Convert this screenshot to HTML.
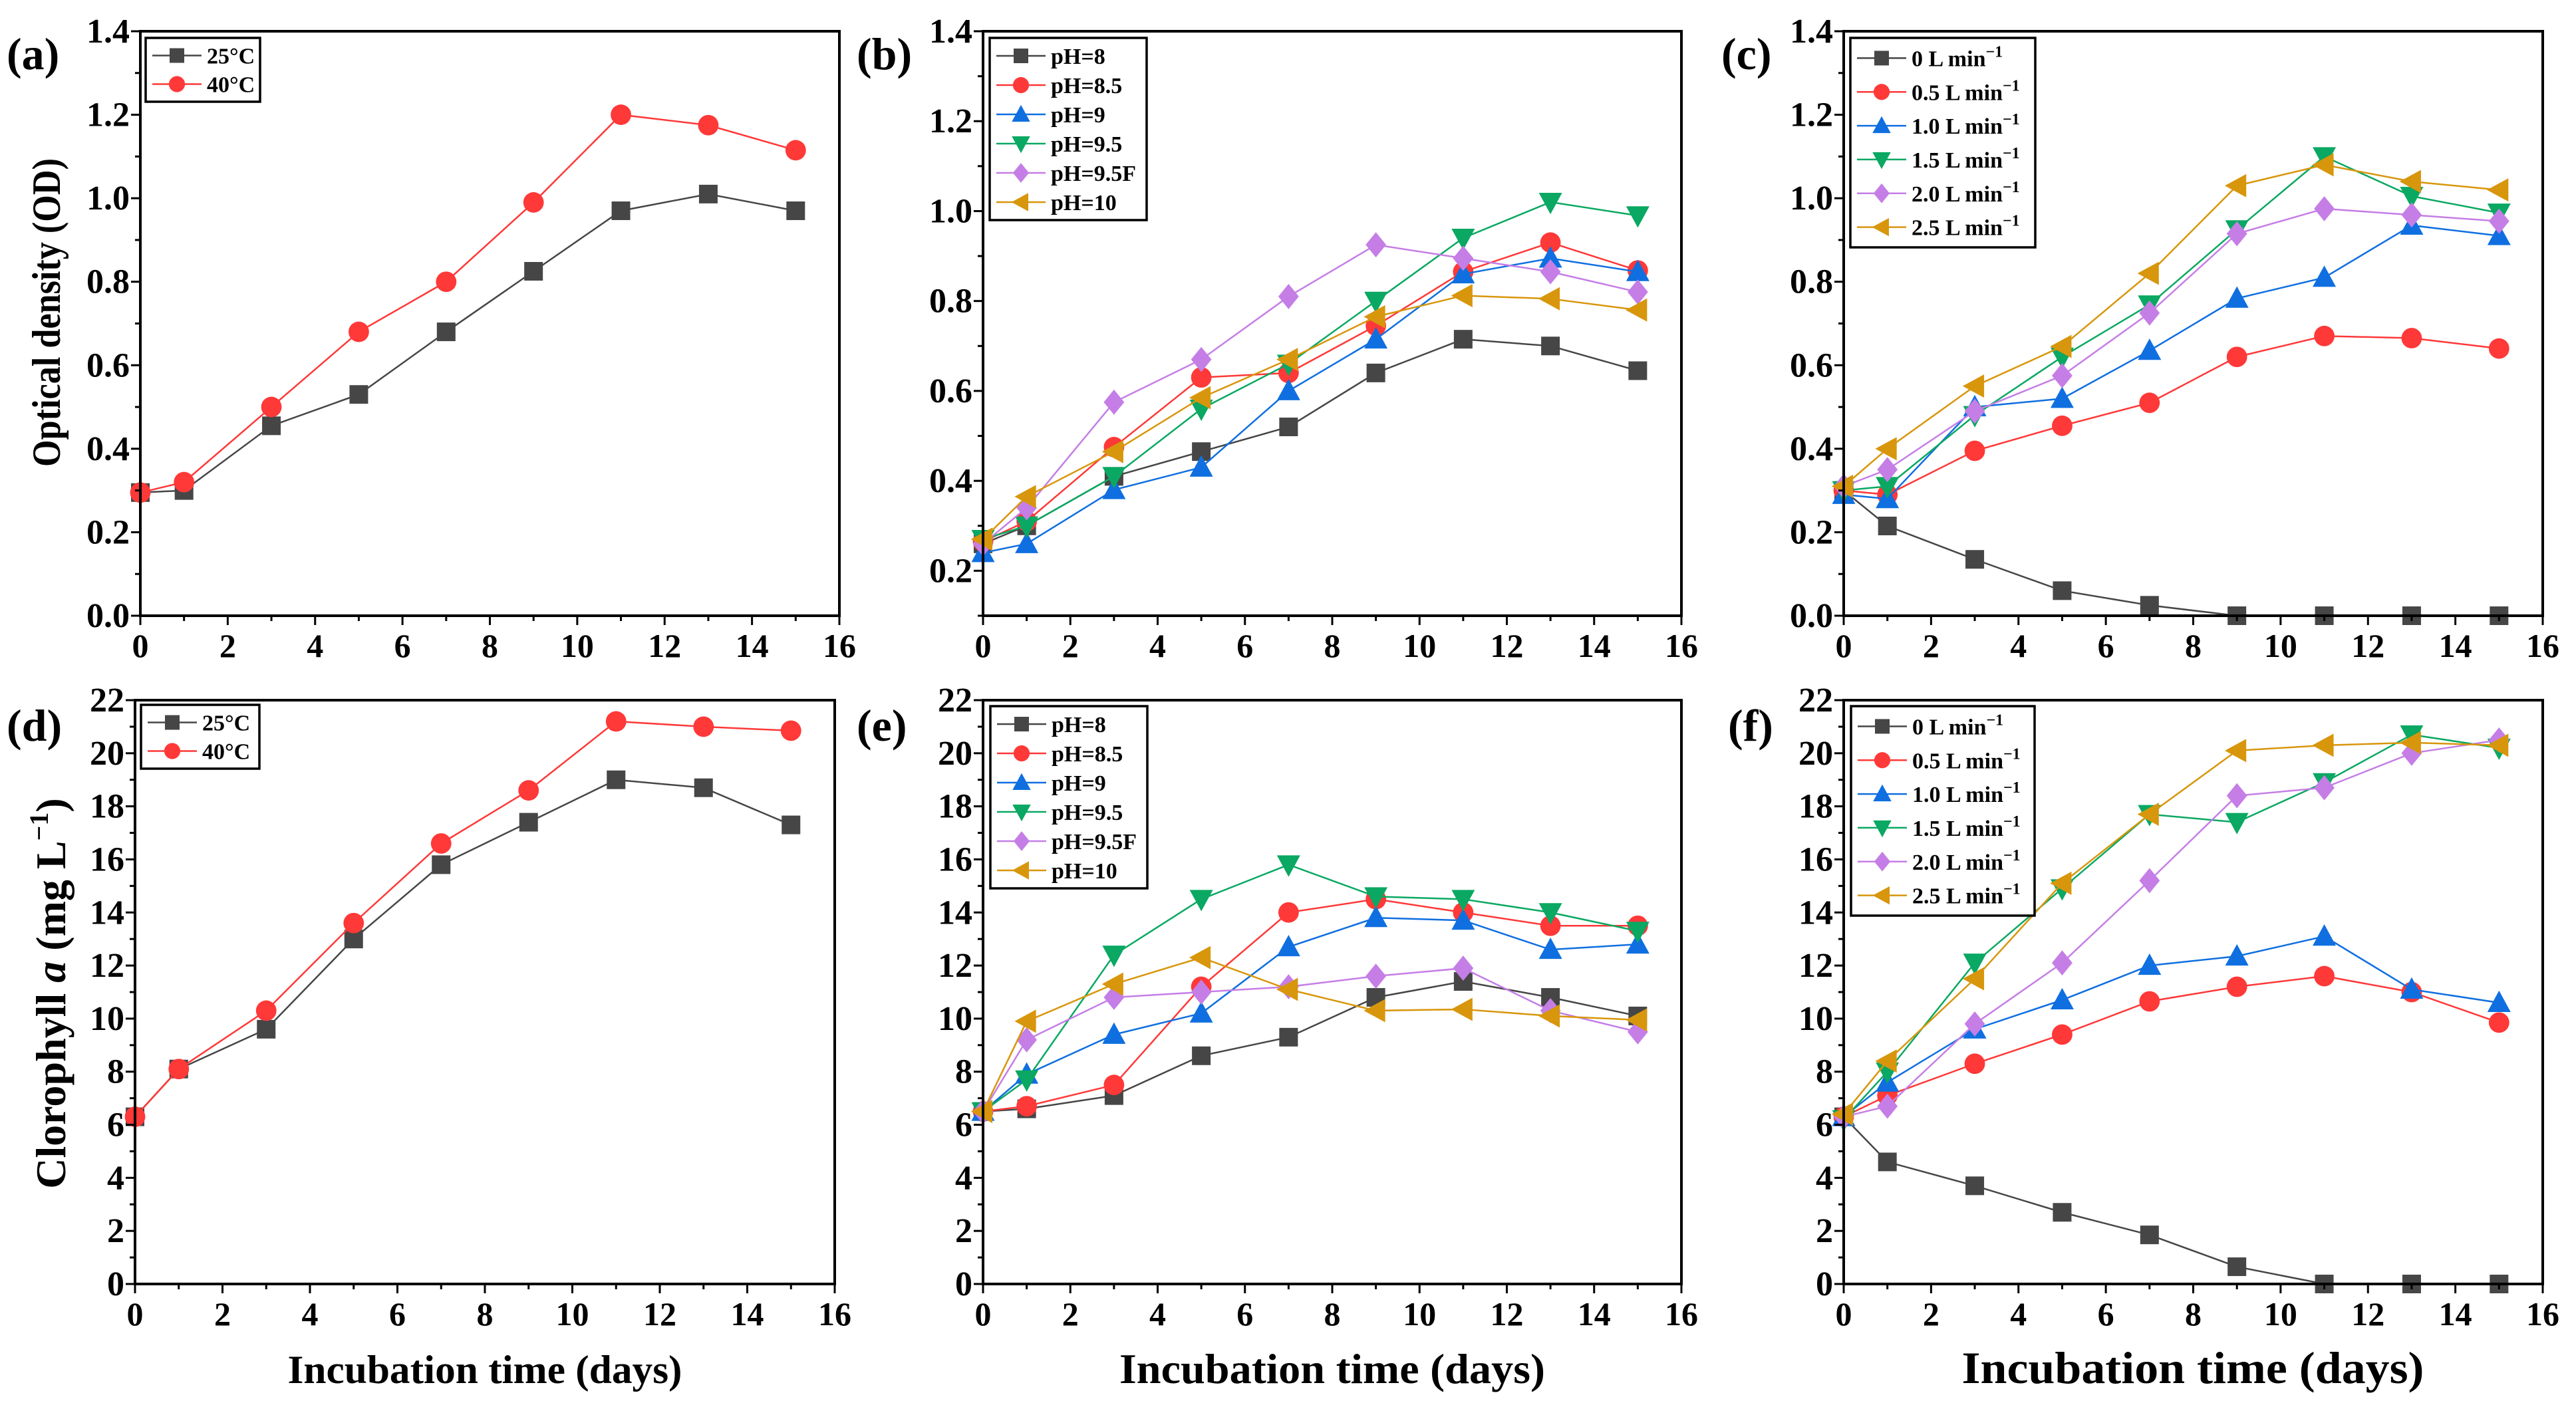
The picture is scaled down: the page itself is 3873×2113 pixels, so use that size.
<!DOCTYPE html>
<html><head><meta charset="utf-8"><style>
html,body{margin:0;padding:0;background:#fff;}
svg{display:block;}
svg text{font-family:"Liberation Serif","Times New Roman",serif;font-weight:bold;}
</style></head><body>
<svg id="fig" width="3873" height="2113" viewBox="0 0 3873 2113" xmlns="http://www.w3.org/2000/svg" font-family="Liberation Serif, serif" font-weight="bold"></svg>
<script>
const days = [0,1,3,5,7,9,11,13,15];
const tempLabels = ["25°C","40°C"];
const phLabels = ["pH=8","pH=8.5","pH=9","pH=9.5","pH=9.5F","pH=10"];
const flowLabels = ["0 L min","0.5 L min","1.0 L min","1.5 L min","2.0 L min","2.5 L min"];
const xTicks = [0,2,4,6,8,10,12,14,16];
const odTicks = [0.0,0.2,0.4,0.6,0.8,1.0,1.2,1.4];
const odTicksB = [0.2,0.4,0.6,0.8,1.0,1.2,1.4];
const chlTicks = [0,2,4,6,8,10,12,14,16,18,20,22];

const aT25 = [0.295,0.30,0.455,0.53,0.68,0.825,0.97,1.01,0.97];
const aT40 = [0.295,0.32,0.50,0.68,0.80,0.99,1.20,1.175,1.115];

const bPH8 = [0.26,0.30,0.41,0.465,0.52,0.64,0.715,0.70,0.645];
const bPH85 = [0.265,0.31,0.475,0.63,0.64,0.745,0.865,0.93,0.868];
const bPH9 = [0.24,0.26,0.38,0.43,0.60,0.715,0.86,0.895,0.865];
const bPH95 = [0.27,0.30,0.41,0.56,0.66,0.80,0.94,1.02,0.99];
const bPH95F = [0.26,0.34,0.575,0.67,0.81,0.925,0.895,0.865,0.82];
const bPH10 = [0.27,0.365,0.465,0.585,0.67,0.765,0.812,0.805,0.78];

const cF0 = [0.30,0.215,0.135,0.06,0.025,0.0,0.0,0.0,0.0];
const cF05 = [0.30,0.29,0.395,0.455,0.51,0.62,0.67,0.665,0.64];
const cF10 = [0.29,0.28,0.50,0.52,0.635,0.76,0.81,0.935,0.91];
const cF15 = [0.30,0.31,0.48,0.62,0.745,0.925,1.10,1.005,0.965];
const cF20 = [0.31,0.35,0.49,0.575,0.725,0.915,0.975,0.96,0.945];
const cF25 = [0.31,0.40,0.55,0.645,0.82,1.03,1.08,1.04,1.02];

const dT25 = [6.3,8.1,9.6,13.0,15.8,17.4,19.0,18.7,17.3];
const dT40 = [6.3,8.1,10.3,13.6,16.6,18.6,21.2,21.0,20.85];

const ePH8 = [6.5,6.6,7.1,8.6,9.3,10.8,11.4,10.8,10.1];
const ePH85 = [6.5,6.7,7.5,11.2,14.0,14.5,14.0,13.5,13.5];
const ePH9 = [6.5,7.9,9.4,10.2,12.7,13.8,13.7,12.6,12.8];
const ePH95 = [6.5,7.7,12.4,14.5,15.8,14.6,14.5,14.0,13.3];
const ePH95F = [6.5,9.2,10.8,11.0,11.2,11.6,11.9,10.3,9.5];
const ePH10 = [6.5,9.9,11.3,12.3,11.1,10.3,10.35,10.1,9.95];

const fF0 = [6.3,4.6,3.7,2.7,1.85,0.65,0.0,0.0,0.0];
const fF05 = [6.3,7.1,8.3,9.4,10.65,11.2,11.6,11.0,9.85];
const fF10 = [6.3,7.6,9.6,10.7,12.0,12.35,13.1,11.1,10.6];
const fF15 = [6.2,8.0,12.1,14.9,17.7,17.4,18.9,20.7,20.2];
const fF20 = [6.3,6.7,9.8,12.1,15.2,18.4,18.7,20.0,20.5];
const fF25 = [6.4,8.4,11.5,15.1,17.7,20.1,20.3,20.4,20.3];

const COLORS = ["#464646","#ff3838","#0f6fe0","#0aa862","#c57ee6","#d8960c"];
const SHAPES = ["square","circle","up","down","diamond","left"];
const NS = "http://www.w3.org/2000/svg";
const svg = document.getElementById("fig");

function mk(tag, attrs, parent){
  const e = document.createElementNS(NS, tag);
  for (const k in attrs) e.setAttribute(k, attrs[k]);
  (parent||svg).appendChild(e);
  return e;
}

function marker(g, shape, cx, cy, color, s){
  let e;
  if (shape==="square") e = mk("rect",{x:cx-s,y:cy-s,width:2*s,height:2*s,fill:color},g);
  else if (shape==="circle") e = mk("circle",{cx:cx,cy:cy,r:s*1.1,fill:color},g);
  else if (shape==="up") e = mk("polygon",{points:`${cx},${cy-s*1.3} ${cx-s*1.25},${cy+s} ${cx+s*1.25},${cy+s}`,fill:color},g);
  else if (shape==="down") e = mk("polygon",{points:`${cx},${cy+s*1.3} ${cx-s*1.25},${cy-s} ${cx+s*1.25},${cy-s}`,fill:color},g);
  else if (shape==="diamond") e = mk("polygon",{points:`${cx},${cy-s*1.35} ${cx+s*1.1},${cy} ${cx},${cy+s*1.35} ${cx-s*1.1},${cy}`,fill:color},g);
  else e = mk("polygon",{points:`${cx-s*1.3},${cy} ${cx+s},${cy-s*1.25} ${cx+s},${cy+s*1.25}`,fill:color},g);
  
  
  return e;
}

function panel(o){
  const g = mk("g",{});
  
  
  const X = v => o.x0 + (v-0)/(16-0)*(o.x1-o.x0);
  const Y = v => o.y1 - (v-o.ymin)/(o.ymax-o.ymin)*(o.y1-o.y0);
  o.series.forEach((vals, i) => {
    const sg = mk("g",{},g);
    
    
    const pts = days.map((d,j)=>`${X(d)},${Y(vals[j])}`).join(" ");
    mk("polyline",{points:pts,fill:"none",stroke:COLORS[o.colorIdx[i]],"stroke-width":2.5},sg);
    days.forEach((d,j)=>marker(sg, SHAPES[o.colorIdx[i]], X(d), Y(vals[j]), COLORS[o.colorIdx[i]], 14));
  });
  const fr = mk("rect",{x:o.x0,y:o.y0,width:o.x1-o.x0,height:o.y1-o.y0,fill:"none",stroke:"#000","stroke-width":4},g);
  
  
  for (let v=0; v<=16; v++){
    const major = v%2===0;
    mk("line",{x1:X(v),x2:X(v),y1:o.y1,y2:o.y1+(major?14:8),stroke:"#000","stroke-width":3},g);
  }
  xTicks.forEach(v=>{
    const t = mk("text",{x:X(v),y:o.y1+62,"text-anchor":"middle","font-size":50},g);
    t.textContent = v;
    
    
  });
  const step = o.ticks[1]-o.ticks[0];
  for (let v=o.ticks[0]-step/2; v<=o.ymax+1e-9; v+=step/2){
    if (v < o.ymin-1e-9) continue;
    const major = o.ticks.some(t=>Math.abs(t-v)<1e-6);
    mk("line",{x1:o.x0,x2:o.x0-(major?14:8),y1:Y(v),y2:Y(v),stroke:"#000","stroke-width":3},g);
  }
  o.ticks.forEach(v=>{
    const t = mk("text",{x:o.x0-16,y:Y(v)+17,"text-anchor":"end","font-size":52},g);
    t.textContent = o.dec ? v.toFixed(1) : v;
    
    
  });
  const lg = mk("g",{},g);
  
  
  mk("rect",{x:o.lx,y:o.ly,width:o.lw,height:o.lh,fill:"#fff",stroke:"#000","stroke-width":3.5},lg);
  const rowH = (o.lh-10)/o.labels.length;
  o.labels.forEach((lab,i)=>{
    const cy = o.ly+5+rowH*(i+0.5);
    const c = COLORS[o.colorIdx[i]];
    mk("line",{x1:o.lx+10,x2:o.lx+84,y1:cy,y2:cy,stroke:c,"stroke-width":2.5},lg);
    marker(lg, SHAPES[o.colorIdx[i]], o.lx+47, cy, c, 11);
    const t = mk("text",{x:o.lx+92,y:cy+12,"font-size":34},lg);
    t.textContent = lab;
    if (o.sup){ const s = mk("tspan",{dy:-14,"font-size":24},t); s.textContent = "−1"; }
    
    
  });
  const pl = mk("text",{x:o.px,y:o.py,"font-size":68},g);
  pl.textContent = "(" + o.id + ")";
  
  
}

const topY0=47, topY1=926, botY0=1053, botY1=1931;
panel({id:"a",x0:211,x1:1262,y0:topY0,y1:topY1,ymin:0,ymax:1.4,ticks:odTicks,dec:true,series:[aT25,aT40],labels:tempLabels,colorIdx:[0,1],lx:219,ly:57,lw:172,lh:96,px:10,py:104});
panel({id:"b",x0:1478,x1:2528,y0:topY0,y1:topY1,ymin:0.1,ymax:1.4,ticks:odTicksB,dec:true,series:[bPH8,bPH85,bPH9,bPH95,bPH95F,bPH10],labels:phLabels,colorIdx:[0,1,2,3,4,5],lx:1488,ly:57,lw:236,lh:274,px:1288,py:104});
panel({id:"c",x0:2772,x1:3823,y0:topY0,y1:topY1,ymin:0,ymax:1.4,ticks:odTicks,dec:true,series:[cF0,cF05,cF10,cF15,cF20,cF25],labels:flowLabels,colorIdx:[0,1,2,3,4,5],sup:true,lx:2782,ly:57,lw:278,lh:315,px:2588,py:104});
panel({id:"d",x0:203,x1:1255,y0:botY0,y1:botY1,ymin:0,ymax:22,ticks:chlTicks,dec:false,series:[dT25,dT40],labels:tempLabels,colorIdx:[0,1],lx:212,ly:1060,lw:178,lh:96,px:10,py:1114});
panel({id:"e",x0:1478,x1:2528,y0:botY0,y1:botY1,ymin:0,ymax:22,ticks:chlTicks,dec:false,series:[ePH8,ePH85,ePH9,ePH95,ePH95F,ePH10],labels:phLabels,colorIdx:[0,1,2,3,4,5],lx:1489,ly:1062,lw:236,lh:274,px:1288,py:1114});
panel({id:"f",x0:2772,x1:3823,y0:botY0,y1:botY1,ymin:0,ymax:22,ticks:chlTicks,dec:false,series:[fF0,fF05,fF10,fF15,fF20,fF25],labels:flowLabels,colorIdx:[0,1,2,3,4,5],sup:true,lx:2783,ly:1062,lw:276,lh:315,px:2598,py:1114});

let t = mk("text",{x:0,y:0,"font-size":60,"text-anchor":"middle",textLength:464,lengthAdjust:"spacingAndGlyphs",transform:"translate(90,470) rotate(-90)"});
t.textContent = "Optical density (OD)";


t = mk("text",{x:0,y:0,"font-size":64,"text-anchor":"middle",transform:"translate(98,1494) rotate(-90)"});
t.appendChild(document.createTextNode("Clorophyll "));
let it = mk("tspan",{"font-style":"italic"},t); it.textContent="a";
t.appendChild(document.createTextNode(" (mg L"));
let sp = mk("tspan",{dy:-26,"font-size":40},t); sp.textContent="−1";
let sp2 = mk("tspan",{dy:26},t); sp2.textContent=")";


[[729,"x-axis-title-d",60,593],[2003,"x-axis-title-e",64,640],[3297,"x-axis-title-f",68,695]].forEach(([cx,n,fs,w])=>{
  const e = mk("text",{x:cx,y:2080,"font-size":fs,"text-anchor":"middle",textLength:w,lengthAdjust:"spacingAndGlyphs"});
  e.textContent = "Incubation time (days)";
  
  
});
</script>
</body></html>
